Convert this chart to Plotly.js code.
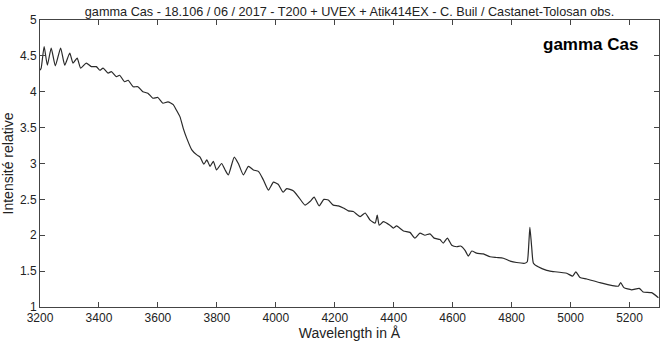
<!DOCTYPE html>
<html><head><meta charset="utf-8">
<script src="https://cdn.plot.ly/plotly-3.0.1.min.js"></script>
<style>html,body{margin:0;padding:0;background:#fff}#chart{width:670px;height:342px}</style>
</head><body><div id="chart"></div>
<script>
const wavelength = [3200,3204,3214,3225,3238,3252,3270,3284,3301,3312,3326,3338,3357,3374,3391,3403,3414,3431,3442,3459,3470,3487,3499,3516,3532,3549,3566,3583,3600,3617,3634,3652,3662,3675,3686,3698,3715,3732,3743,3756,3766,3777,3788,3799,3816,3828,3839,3859,3873,3890,3907,3924,3941,3958,3975,3992,4008,4025,4037,4059,4076,4099,4116,4130,4147,4163,4178,4195,4212,4229,4246,4263,4286,4303,4320,4337,4344,4351,4365,4387,4399,4410,4433,4455,4472,4489,4506,4523,4537,4557,4568,4582,4597,4614,4627,4642,4653,4665,4681,4704,4727,4749,4772,4795,4817,4845,4853,4859,4862,4868,4874,4890,4919,4930,4987,5007,5018,5032,5055,5100,5162,5170,5181,5207,5233,5246,5275,5298];
const intensity = [4.30,4.33,4.63,4.37,4.61,4.36,4.61,4.37,4.54,4.40,4.47,4.33,4.40,4.35,4.35,4.30,4.33,4.26,4.28,4.21,4.23,4.14,4.16,4.07,4.07,4.00,3.98,3.91,3.92,3.84,3.86,3.82,3.75,3.65,3.49,3.35,3.19,3.12,3.09,2.99,3.05,2.96,3.03,2.91,3.00,2.91,2.84,3.09,3.00,2.84,2.96,2.91,2.89,2.77,2.63,2.74,2.71,2.60,2.65,2.62,2.54,2.42,2.47,2.53,2.41,2.50,2.49,2.42,2.41,2.38,2.34,2.33,2.26,2.31,2.21,2.17,2.28,2.14,2.19,2.14,2.10,2.13,2.06,2.04,1.96,2.03,2.00,2.02,1.96,1.94,1.89,1.96,1.86,1.84,1.85,1.79,1.71,1.78,1.75,1.74,1.70,1.69,1.68,1.64,1.62,1.61,1.63,1.93,2.11,1.84,1.61,1.56,1.51,1.50,1.47,1.43,1.49,1.41,1.39,1.34,1.29,1.34,1.27,1.24,1.26,1.21,1.20,1.13];
const xTicks = [3200,3400,3600,3800,4000,4200,4400,4600,4800,5000,5200];
const yTicks = [1,1.5,2,2.5,3,3.5,4,4.5,5];
const chartTitle = 'gamma Cas - 18.106 / 06 / 2017 - T200 + UVEX + Atik414EX - C. Buil / Castanet-Tolosan obs.';
const starLabel = 'gamma Cas';

const font = 'Liberation Sans, Arial, sans-serif';
const axisCommon = {
  showgrid:false, zeroline:false, showline:true, linecolor:'#444', linewidth:1,
  mirror:'ticks', ticks:'inside', ticklen:5, tickcolor:'#444', tickwidth:1,
  tickfont:{family:font,size:12,color:'#222'}, automargin:false
};
Plotly.newPlot('chart', [{
  x: wavelength, y: intensity, type:'scatter', mode:'lines',
  line:{color:'#2a2a2a', width:1.2, shape:'spline', smoothing:0.5}, hoverinfo:'skip'
}], {
  width:670, height:342,
  margin:{l:40, r:11, t:20, b:35},
  paper_bgcolor:'#fff', plot_bgcolor:'#fff',
  showlegend:false,
  title:{text:chartTitle, font:{family:font,size:12.7,color:'#222'}, x:0.5, xref:'paper', y:1-12/342, yref:'container', yanchor:'middle'},
  xaxis:Object.assign({}, axisCommon, {range:[3200,5300], tickvals:xTicks, ticktext:xTicks.map(String),
    title:{text:'Wavelength in Å', font:{family:font,size:14,color:'#222'}, standoff:2}}),
  yaxis:Object.assign({}, axisCommon, {range:[1,5], tickvals:yTicks, ticktext:yTicks.map(String), ticklabelstandoff:0,
    title:{text:'Intensité relative', font:{family:font,size:14,color:'#222'}, standoff:7}}),
  annotations:[{text:starLabel, xref:'paper', yref:'paper', x:0.969, y:0.913, xanchor:'right', yanchor:'middle',
    showarrow:false, font:{family:font, size:17, color:'#000', weight:'bold'}}]
}, {staticPlot:true});
</script></body></html>
